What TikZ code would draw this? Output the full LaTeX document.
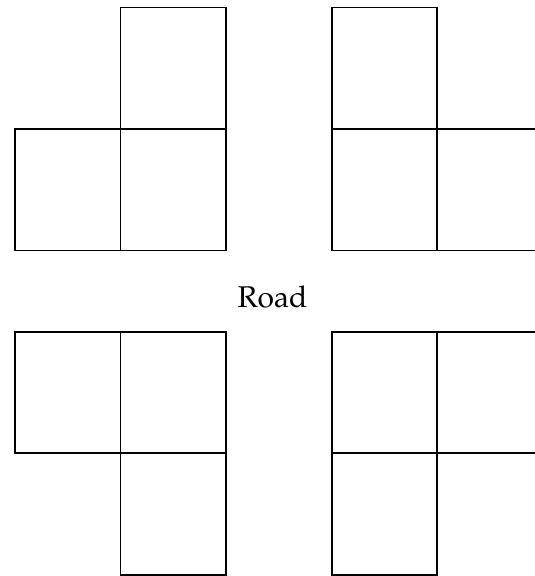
\documentclass[tikz,border=0pt]{standalone}
\usepackage[T1]{fontenc}
\usepackage{mathpazo}
\begin{document}
\begin{tikzpicture}[x=1pt,y=-1pt,
  cell/.style={draw=black, line width=1.6pt},
  label/.style={font=\fontsize{30}{36}\selectfont, inner sep=0pt, anchor=base}]
\useasboundingbox (0,0) rectangle (535,576);
% top-left group
\draw[cell] (120.5,7.5) rectangle (226,128.7);
\draw[cell] (14.7,128.7) rectangle (120.5,250.3);
\draw[cell] (120.5,128.7) rectangle (226,250.3);
% top-right group
\draw[cell] (331.7,7.5) rectangle (436.7,128.7);
\draw[cell] (331.7,128.7) rectangle (436.7,250.3);
\draw[cell] (436.7,128.7) -- (537,128.7);
\draw[cell] (436.7,250.3) -- (537,250.3);
% label
\node[label] (road) at (272.5,307.7) {Road};
% bottom-left group
\draw[cell] (14.7,332) rectangle (120.5,452.7);
\draw[cell] (120.5,332) rectangle (226,452.7);
\draw[cell] (120.5,452.7) rectangle (226,575);
% bottom-right group
\draw[cell] (331.7,332) rectangle (436.7,452.7);
\draw[cell] (331.7,452.7) rectangle (436.7,575);
\draw[cell] (436.7,332) -- (537,332);
\draw[cell] (436.7,452.7) -- (537,452.7);
\end{tikzpicture}
\end{document}
